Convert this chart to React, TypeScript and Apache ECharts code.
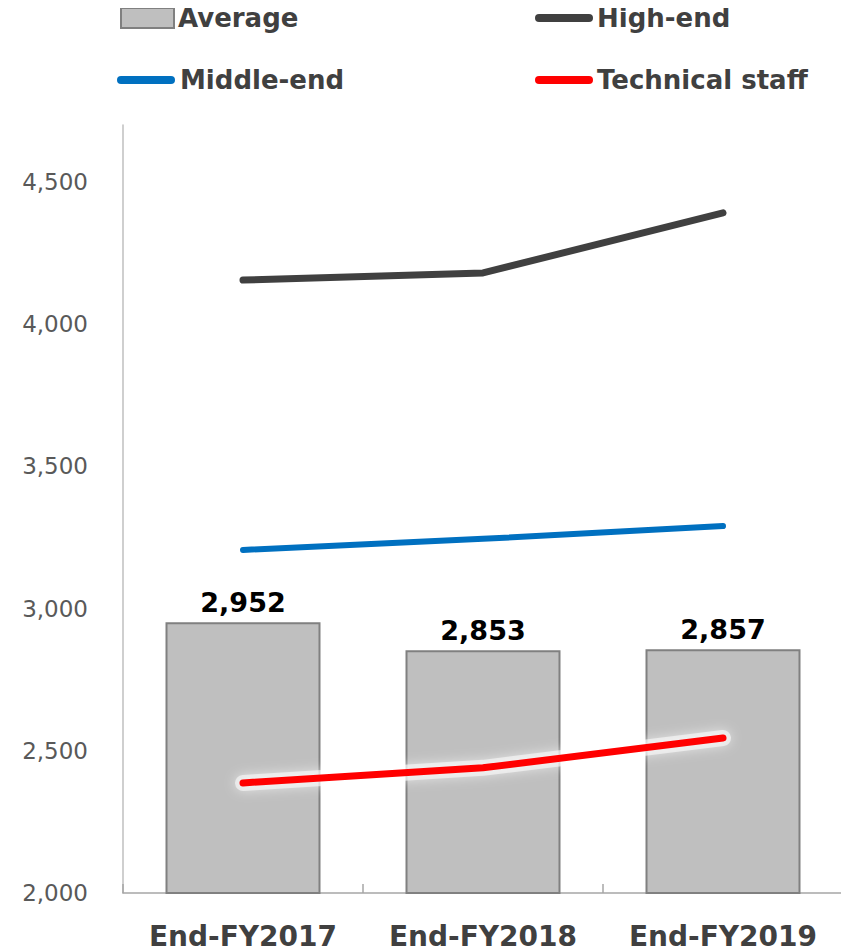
import React, { useEffect, useRef } from "react";
import * as echarts from "echarts";

const categories = ["End-FY2017", "End-FY2018", "End-FY2019"];
const averageValues = [2952, 2853, 2857];
const highEndValues = [4155, 4180, 4391];
const middleEndValues = [3206, 3245, 3290];
const technicalValues = [2387, 2440, 2545];
const seriesNames = ["Average", "High-end", "Middle-end", "Technical staff"];

const FONT = "'DejaVu Sans', Verdana, sans-serif";
const lineIcon = "path://M4,0 L54,0 A4,4 0 0 1 54,8 L4,8 A4,4 0 0 1 4,0 Z";

export default function App() {
  const ref = useRef<HTMLDivElement>(null);
  useEffect(() => {
    if (!ref.current) return;
    const chart = echarts.init(ref.current, null, { renderer: "svg" });
    const legendText = { color: "#404040", fontSize: 26, fontWeight: "bold" as const, fontFamily: FONT };
    const mkLegend = (name: string, left: number, top: number, w: number, h: number, icon?: string) => ({
      data: [name],
      left,
      top,
      itemWidth: w,
      itemHeight: h,
      icon,
      itemGap: 0,
      padding: 0,
      selectedMode: false,
      textStyle: { ...legendText, padding: [0, 0, 0, -1] },
    });
    chart.setOption({
      animation: false,
      backgroundColor: "#ffffff",
      legend: [
        mkLegend(seriesNames[0], 120, 5, 53, 20, "rect"),
        mkLegend(seriesNames[1], 535, 5, 58, 8, lineIcon),
        mkLegend(seriesNames[2], 117, 67, 60, 8, lineIcon),
        mkLegend(seriesNames[3], 535, 67, 58, 8, lineIcon),
      ],
      grid: { left: 123, right: 6, top: 125, bottom: 58, containLabel: false },
      xAxis: {
        type: "category",
        data: categories,
        boundaryGap: true,
        axisLine: { lineStyle: { color: "#a6a6a6", width: 1.5 } },
        axisTick: { show: true, inside: true, length: 9, alignWithLabel: false, lineStyle: { color: "#a6a6a6", width: 1.5 } },
        axisLabel: {
          interval: 0,
          hideOverlap: false,
          color: "#404040",
          fontSize: 28,
          lineHeight: 28,
          fontWeight: "bold",
          fontFamily: FONT,
          margin: 29,
        },
      },
      yAxis: {
        type: "value",
        min: 2000,
        max: 4700,
        interval: 500,
        axisLine: { show: true, lineStyle: { color: "#bfbfbf", width: 1.5 } },
        axisTick: { show: false },
        splitLine: { show: false },
        axisLabel: {
          color: "#595959",
          fontSize: 23,
          fontFamily: FONT,
          margin: 35,
          showMaxLabel: false,
          formatter: (v: number) => (v % 500 === 0 ? v.toLocaleString("en-US") : ""),
        },
      },
      series: [
        {
          name: seriesNames[0],
          type: "bar",
          data: averageValues,
          barWidth: 155,
          itemStyle: { color: "#bfbfbf", borderColor: "#808080", borderWidth: 2 },
          label: {
            show: true,
            position: "top",
            distance: 6,
            color: "#000000",
            fontSize: 27,
            fontWeight: "bold",
            fontFamily: FONT,
            formatter: (p: any) => Number(p.value).toLocaleString("en-US"),
          },
          z: 1,
        },
        {
          name: seriesNames[1],
          type: "line",
          data: highEndValues,
          symbol: "none",
          itemStyle: { color: "#404040" },
          lineStyle: { color: "#404040", width: 7, cap: "round", join: "round" },
          z: 3,
        },
        {
          name: seriesNames[2],
          type: "line",
          data: middleEndValues,
          symbol: "none",
          itemStyle: { color: "#0070c0" },
          lineStyle: { color: "#0070c0", width: 6, cap: "round", join: "round" },
          z: 3,
        },
        {
          name: "glow",
          type: "line",
          data: technicalValues,
          symbol: "none",
          silent: true,
          itemStyle: { color: "#ffffff" },
          lineStyle: {
            color: "rgba(255,255,255,0.55)",
            width: 16,
            cap: "round",
            join: "round",
            shadowColor: "rgba(255,255,255,1)",
            shadowBlur: 12,
          },
          z: 2,
        },
        {
          name: seriesNames[3],
          type: "line",
          data: technicalValues,
          symbol: "none",
          itemStyle: { color: "#ff0000" },
          lineStyle: { color: "#ff0000", width: 7, cap: "round", join: "round" },
          z: 3,
        },
      ],
    });
    return () => chart.dispose();
  }, []);
  return <div ref={ref} style={{ width: 849, height: 951, marginLeft: -8, marginTop: -8 }} />;
}
